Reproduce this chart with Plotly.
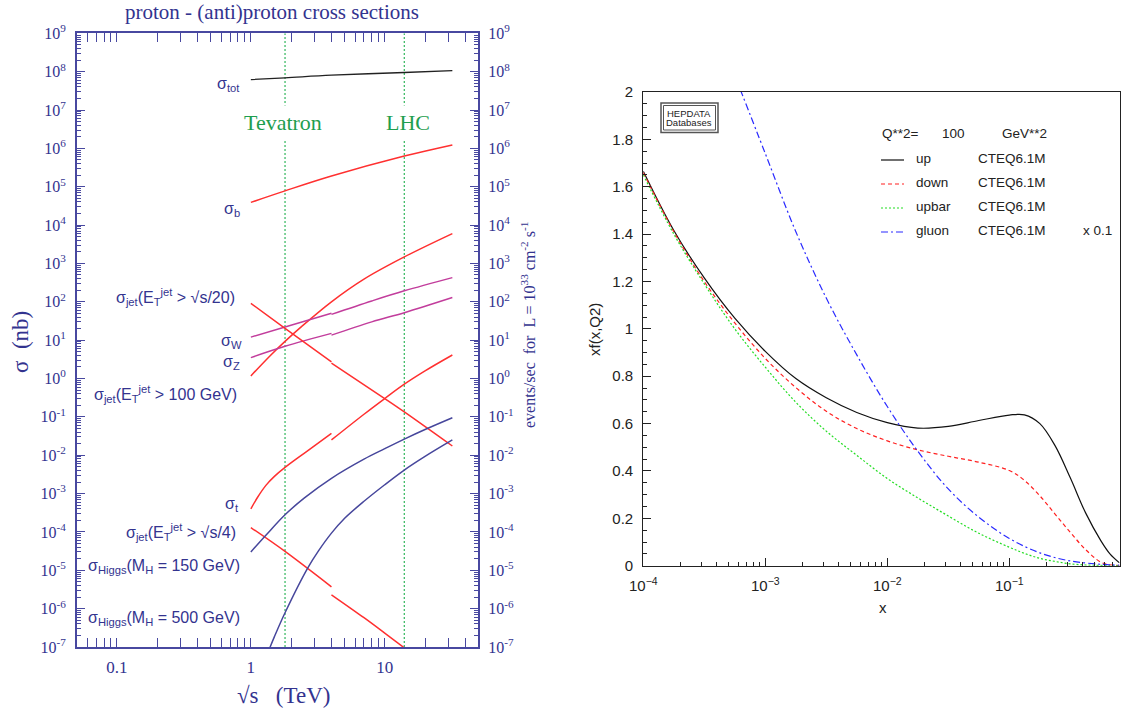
import plotly.graph_objects as go

W, H = 1121, 713

# ---------------- proton-(anti)proton cross sections (nb) vs sqrt(s) (TeV) ----------------
tevatron_E = 1.8
lhc_E = 14.0

E_tot = [1, 1.8, 4, 14, 32]
sig_tot = [6.2e7, 6.9e7, 8.1e7, 9.5e7, 1.07e8]

E_b = [1, 1.8, 4, 14, 32]
sig_b = [3.9e4, 7.8e4, 1.9e5, 6.3e5, 1.23e6]

E_jet100 = [1, 1.4, 1.8, 2.4, 4, 7, 14, 32]
sig_jet100 = [1.17, 4.0, 9.3, 22.9, 100, 390, 1480, 6000]

E_W_ppbar = [1, 1.8, 4]
sig_W_ppbar = [12, 22, 50]
E_W_pp = [4, 8, 14, 32]
sig_W_pp = [47, 105, 193, 427]

E_Z_ppbar = [1, 1.8, 4]
sig_Z_ppbar = [3.5, 6.9, 15]
E_Z_pp = [4, 8, 14, 32]
sig_Z_pp = [13.5, 30, 52, 129]

E_jet20_ppbar = [1, 1.8, 4]
sig_jet20_ppbar = [91, 20.4, 2.7]
E_jet20_pp = [4, 10, 14, 32]
sig_jet20_pp = [2.5, 0.30, 0.135, 0.0174]

E_t_ppbar = [1, 1.12, 1.3, 1.5, 1.8, 2.5, 4]
sig_t_ppbar = [4.0e-4, 7.9e-4, 1.66e-3, 2.8e-3, 4.8e-3, 1.12e-2, 3.7e-2]
E_t_pp = [4, 7, 10, 14, 20, 32]
sig_t_pp = [0.025, 0.117, 0.30, 0.71, 1.58, 4.1]

E_jet4_ppbar = [1, 1.8, 4]
sig_jet4_ppbar = [1.3e-4, 3.1e-5, 3.7e-6]
E_jet4_pp = [4, 7, 10, 14]
sig_jet4_pp = [2.3e-6, 5.8e-7, 2.3e-7, 9.5e-8]

E_H150 = [1, 1.3, 1.8, 2.5, 4, 7, 10, 14, 20, 32]
sig_H150 = [3.0e-5, 8.3e-5, 2.8e-4, 7.6e-4, 2.5e-3, 7.9e-3, 1.48e-2, 2.63e-2, 4.68e-2, 9.5e-2]

E_H500 = [1.35, 1.5, 1.8, 2.65, 3.2, 4, 5, 7, 10, 14, 20, 32]
sig_H500 = [7.6e-8, 1.86e-7, 7.8e-7, 1.12e-5, 3.2e-5, 9.3e-5, 2.24e-4, 6.3e-4, 1.7e-3,
            4.1e-3, 9.3e-3, 2.5e-2]

sigma_exponents = list(range(-7, 10))
sigma_ticktext = ["10<sup>%d</sup>" % n for n in sigma_exponents]
sqrt_s_ticks = [0.1, 1, 10]
sqrt_s_ticktext = ["0.1", "1", "10"]

# ---------------- CTEQ6.1M parton distributions, Q^2 = 100 GeV^2 ----------------
x_grid = [1e-4, 1.78e-4, 3.16e-4, 5.62e-4, 1e-3, 1.78e-3, 3.16e-3, 5.62e-3, 1e-2, 1.78e-2,
          3.16e-2, 5.62e-2, 0.1, 0.133, 0.178, 0.237, 0.316, 0.422, 0.562, 0.668, 0.8]
up_xf = [1.665, 1.415, 1.215, 1.045, 0.905, 0.79, 0.709, 0.647, 0.604, 0.581,
         0.588, 0.613, 0.636, 0.637, 0.60, 0.507, 0.371, 0.223, 0.106, 0.05, 0.012]
down_xf = [1.66, 1.41, 1.20, 1.025, 0.875, 0.752, 0.652, 0.579, 0.527, 0.489,
           0.462, 0.437, 0.402, 0.36, 0.295, 0.218, 0.141, 0.068, 0.015, 0.004, 0.0]
upbar_xf = [1.65, 1.40, 1.19, 1.0, 0.838, 0.69, 0.568, 0.466, 0.368, 0.286,
            0.21, 0.137, 0.078, 0.052, 0.031, 0.018, 0.008, 0.003, 0.001, 0.0, 0.0]

gluon_x = [5.62e-4, 1e-3, 1.78e-3, 3.16e-3, 5.62e-3, 1e-2, 1.78e-2, 3.16e-2, 5.62e-2,
           0.1, 0.178, 0.316, 0.562, 0.8]
gluon_xf_scaled = [2.07, 1.74, 1.41, 1.13, 0.89, 0.672, 0.483, 0.324, 0.205,
                   0.115, 0.054, 0.02, 0.006, 0.002]

pdf_x_ticks = [1e-4, 1e-3, 1e-2, 1e-1]
pdf_x_ticktext = ["10<sup>\u22124</sup>", "10<sup>\u22123</sup>", "10<sup>\u22122</sup>", "10<sup>\u22121</sup>"]

legend_rows = [("up", "#111111", "solid"),
               ("down", "#ff2020", "4px,3px"),
               ("upbar", "#22dd22", "2px,2px"),
               ("gluon", "#2a2aff", "7px,3px,2px,3px")]

# ---------------- styling ----------------
NAVY = "#33338f"
AXIS_NAVY = "#4848a0"
RED = "#ff3030"
MAGENTA = "#c23d9c"
HIGGS = "#47479c"
GREEN = "#1f9e4f"
SERIF = "Liberation Serif"
SANS = "Liberation Sans"


def xp(px):
    return px / W


def yp(py):
    return 1 - py / H


fig = go.Figure()


def add_left(E, sig, color, width=1.5, dash="solid", yaxis="y"):
    fig.add_trace(go.Scatter(x=E, y=sig, mode="lines", xaxis="x", yaxis=yaxis,
                             line=dict(color=color, width=width, dash=dash,
                                       shape="spline", smoothing=1.0),
                             hoverinfo="skip", showlegend=False))


# collider energies
for E0 in (tevatron_E, lhc_E):
    add_left([E0, E0], [1e-7, 1e9], "#2fb55a", width=1.2, dash="2px,2px")

# sigma_tot is drawn against the right-hand (events/sec) scale, which has the same range
add_left(E_tot, sig_tot, "#222222", 1.3, yaxis="y3")
add_left(E_b, sig_b, RED)
add_left(E_jet100, sig_jet100, RED)
add_left(E_W_ppbar, sig_W_ppbar, MAGENTA)
add_left(E_W_pp, sig_W_pp, MAGENTA)
add_left(E_Z_ppbar, sig_Z_ppbar, MAGENTA)
add_left(E_Z_pp, sig_Z_pp, MAGENTA)
add_left(E_jet20_ppbar, sig_jet20_ppbar, RED)
add_left(E_jet20_pp, sig_jet20_pp, RED)
add_left(E_t_ppbar, sig_t_ppbar, RED)
add_left(E_t_pp, sig_t_pp, RED)
add_left(E_jet4_ppbar, sig_jet4_ppbar, RED)
add_left(E_jet4_pp, sig_jet4_pp, RED)
add_left(E_H150, sig_H150, HIGGS)
add_left(E_H500, sig_H500, HIGGS)

# PDF curves
pdf_curves = [(x_grid, up_xf), (x_grid, down_xf), (x_grid, upbar_xf), (gluon_x, gluon_xf_scaled)]
for (xs, ys), (name, color, dash) in zip(pdf_curves, legend_rows):
    fig.add_trace(go.Scatter(x=xs, y=ys, mode="lines", xaxis="x2", yaxis="y2", name=name,
                             line=dict(color=color, width=1.2, dash=dash,
                                       shape="spline", smoothing=1.0),
                             hoverinfo="skip", showlegend=False))

sig_minor = [k * 10.0 ** n for n in range(-7, 9) for k in range(2, 10)]
E_minor = [k * 10.0 ** n for n in range(-2, 2) for k in range(2, 10) if 0.05 <= k * 10.0 ** n <= 50]
pdf_minor = [k * 10.0 ** n for n in range(-4, 0) for k in range(2, 10) if k * 10.0 ** n < 0.8]

fig.update_layout(
    width=W, height=H, margin=dict(l=0, r=0, t=0, b=0, autoexpand=False),
    paper_bgcolor="white", plot_bgcolor="white", showlegend=False,
    xaxis=dict(domain=[xp(76.7), xp(478.3)], anchor="y", type="log", range=[-1.301, 1.699],
               tickmode="array", tickvals=sqrt_s_ticks, ticktext=sqrt_s_ticktext,
               ticks="inside", ticklen=9, tickwidth=1.2, tickcolor=AXIS_NAVY,
               minor=dict(tickmode="array", tickvals=E_minor, ticks="inside", ticklen=5,
                          tickwidth=1, tickcolor=AXIS_NAVY, showgrid=False),
               showline=True, linecolor=AXIS_NAVY, linewidth=1.5, mirror="allticks",
               showgrid=False, zeroline=False, ticklabelstandoff=4, automargin=False,
               tickfont=dict(family=SERIF, size=17, color=NAVY)),
    yaxis=dict(domain=[yp(647), yp(33.3)], anchor="x", type="log", range=[-7, 9],
               tickmode="array", tickvals=[10.0 ** n for n in sigma_exponents], ticktext=sigma_ticktext,
               ticks="inside", ticklen=9, tickwidth=1.2, tickcolor=AXIS_NAVY,
               minor=dict(tickmode="array", tickvals=sig_minor, ticks="inside", ticklen=5,
                          tickwidth=1, tickcolor=AXIS_NAVY, showgrid=False),
               showline=True, linecolor=AXIS_NAVY, linewidth=1.5, mirror="allticks",
               showgrid=False, zeroline=False, ticklabelstandoff=6, automargin=False,
               tickfont=dict(family=SERIF, size=16, color=NAVY)),
    yaxis3=dict(overlaying="y", side="right", anchor="x", type="log", range=[-7, 9],
                tickmode="array", tickvals=[10.0 ** n for n in sigma_exponents], ticktext=sigma_ticktext,
                ticks="", showline=False, showgrid=False, zeroline=False, ticklabelstandoff=9,
                automargin=False, tickfont=dict(family=SERIF, size=16, color=NAVY)),
    xaxis2=dict(domain=[xp(643.3), xp(1119.5)], anchor="y2", type="log", range=[-4, -0.0969],
                tickmode="array", tickvals=pdf_x_ticks, ticktext=pdf_x_ticktext,
                ticks="inside", ticklen=8, tickwidth=1, tickcolor="#222",
                minor=dict(tickmode="array", tickvals=pdf_minor, ticks="inside", ticklen=4,
                           tickwidth=1, tickcolor="#222", showgrid=False),
                showline=True, linecolor="#222", linewidth=1.2, mirror=True,
                showgrid=False, zeroline=False, ticklabelstandoff=6, automargin=False,
                tickfont=dict(family=SANS, size=15, color="#222")),
    yaxis2=dict(domain=[yp(565.7), yp(92)], anchor="x2", range=[0, 2], dtick=0.2,
                ticks="inside", ticklen=8, tickwidth=1, tickcolor="#222",
                minor=dict(dtick=0.05, ticks="inside", ticklen=4, tickwidth=1,
                           tickcolor="#222", showgrid=False),
                showline=True, linecolor="#222", linewidth=1.2, mirror=True,
                showgrid=False, zeroline=False, ticklabelstandoff=6, automargin=False,
                tickfont=dict(family=SANS, size=15, color="#222")),
)

ann = []


def text(x, y, s, size, color, family, xanchor="center", angle=0, **kw):
    ann.append(dict(x=xp(x), y=yp(y), xref="paper", yref="paper", text=s, showarrow=False,
                    xanchor=xanchor, yanchor="middle", textangle=angle,
                    font=dict(size=size, color=color, family=family), **kw))


# left panel texts
text(272, 12, "proton - (anti)proton cross sections", 21, NAVY, SERIF)
text(21, 342, "\u03c3  (nb)", 23, NAVY, SERIF, angle=-90)
text(283, 695, "\u221as   (TeV)", 23, NAVY, SERIF)
text(528, 325, "events/sec  for  L = 10<sup>33</sup> cm<sup>-2</sup> s<sup>-1</sup>", 16, NAVY, SERIF, angle=-90)
text(283, 123, "Tevatron", 22, GREEN, SERIF, bgcolor="white", borderpad=4)
text(408, 123, "LHC", 22, GREEN, SERIF, bgcolor="white", borderpad=4)

labels = [
    (242, 84, "\u03c3<sub>tot</sub>"),
    (242, 209, "\u03c3<sub>b</sub>"),
    (237, 297, "\u03c3<sub>jet</sub>(E<sub>T</sub><sup>jet</sup> > \u221as/20)"),
    (244, 341, "\u03c3<sub>W</sub>"),
    (242, 362, "\u03c3<sub>Z</sub>"),
    (239, 394, "\u03c3<sub>jet</sub>(E<sub>T</sub><sup>jet</sup> > 100 GeV)"),
    (241, 504, "\u03c3<sub>t</sub>"),
    (238, 532, "\u03c3<sub>jet</sub>(E<sub>T</sub><sup>jet</sup> > \u221as/4)"),
    (242, 566, "\u03c3<sub>Higgs</sub>(M<sub>H</sub> = 150 GeV)"),
    (242, 618, "\u03c3<sub>Higgs</sub>(M<sub>H</sub> = 500 GeV)"),
]
for x, y, s in labels:
    text(x, y, s, 16, NAVY, SANS, xanchor="right")

# right panel texts
text(594, 330, "xf(x,Q2)", 15, "#222", SANS, angle=-90)
text(883, 607, "x", 15, "#222", SANS)
text(880, 134, "Q**2=", 13.5, "#222", SANS, xanchor="left")
text(940, 134, "100", 13.5, "#222", SANS, xanchor="left")
text(1000, 134, "GeV**2", 13.5, "#222", SANS, xanchor="left")
legend_y = [159, 183, 207, 231]
for (name, color, dash), y in zip(legend_rows, legend_y):
    text(914, y, name, 13.5, "#222", SANS, xanchor="left")
    text(976, y, "CTEQ6.1M", 13.5, "#222", SANS, xanchor="left")
text(1081, 231, "x 0.1", 13.5, "#222", SANS, xanchor="left")
text(689, 113, "HEPDATA", 9.5, "#222", SANS)
text(689, 122.5, "Databases", 9.5, "#222", SANS)

fig.update_layout(annotations=ann)

shapes = []
for (name, color, dash), y in zip(legend_rows, legend_y):
    shapes.append(dict(type="line", xref="paper", yref="paper", x0=xp(881), x1=xp(904),
                       y0=yp(y + 1), y1=yp(y + 1), line=dict(color=color, width=1.2, dash=dash)))
shapes.append(dict(type="rect", xref="paper", yref="paper", x0=xp(661), x1=xp(718),
                   y0=yp(103), y1=yp(132.5), line=dict(color="#555", width=1.5)))
shapes.append(dict(type="rect", xref="paper", yref="paper", x0=xp(663.5), x1=xp(715.5),
                   y0=yp(105.5), y1=yp(130), line=dict(color="#555", width=1)))
fig.update_layout(shapes=shapes)

fig.write_html("out.html")
